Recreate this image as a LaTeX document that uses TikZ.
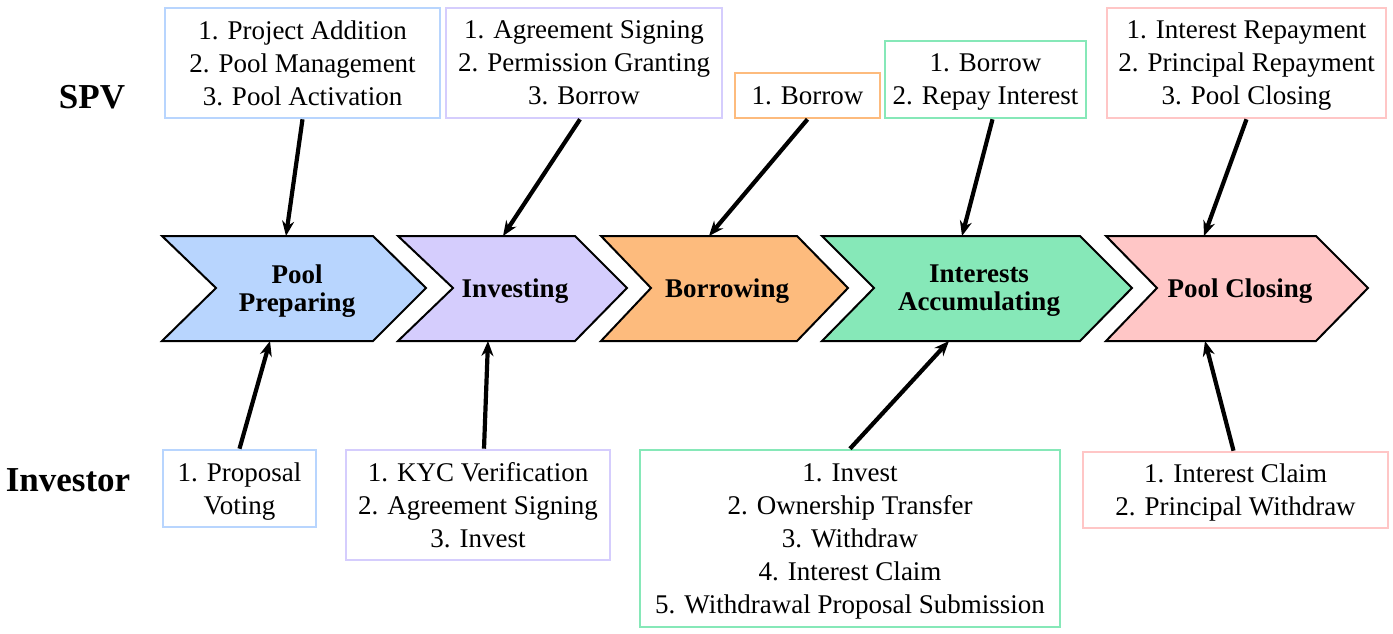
\documentclass[tikz,border=0pt]{standalone}
\usepackage{fontspec}
\setmainfont{Liberation Serif}
\usepackage{tikz}
\usetikzlibrary{arrows.meta}
\definecolor{poolblue}{HTML}{B8D5FE}
\definecolor{investpurple}{HTML}{D5CDFD}
\definecolor{borroworange}{HTML}{FDBB7D}
\definecolor{interestgreen}{HTML}{86E8B8}
\definecolor{closepink}{HTML}{FFC6C6}
\tikzset{>={Stealth[length=15pt,width=12pt]},
  chev/.style={draw=black,line width=2pt,line join=miter},
  stage/.style={font=\fontsize{27}{28}\selectfont\bfseries,align=center,text depth=0pt},
  task/.style={draw,line width=2.6pt,align=center,inner sep=0pt,text depth=0pt,
    font=\fontsize{27}{33}\selectfont},
  role/.style={font=\fontsize{35}{40}\selectfont\bfseries},
  push/.style={line width=4.2pt,->}}

\begin{document}
\begin{tikzpicture}[x=1pt,y=-1pt]

  \useasboundingbox (0,0) rectangle (1393,634);

  \node [role] (spv) at (92,97) {SPV};
  \node [role] (investor) at (68,480) {Investor};

  % stages
  \draw [chev,fill=poolblue] (162,236) -- (373,236) -- (426,288) -- (373,341) -- (162,341) -- (216,288) -- cycle;
  \draw [chev,fill=investpurple] (398,236) -- (575,236) -- (627,288) -- (575,341) -- (398,341) -- (453,288) -- cycle;
  \draw [chev,fill=borroworange] (601,236) -- (797,236) -- (848,288) -- (797,341) -- (601,341) -- (651,288) -- cycle;
  \draw [chev,fill=interestgreen] (822,236) -- (1080,236) -- (1132,288) -- (1080,341) -- (822,341) -- (874,288) -- cycle;
  \draw [chev,fill=closepink] (1106,236) -- (1316,236) -- (1368,288) -- (1316,341) -- (1106,341) -- (1157,288) -- cycle;

  \node [stage] (pool) at (297,288) {Pool\\Preparing};
  \node [stage] (invest) at (515,288) {Investing};
  \node [stage] (borrow) at (727,288) {Borrowing};
  \node [stage] (interest) at (979,288) {Interests\\Accumulating};
  \node [stage] (close) at (1240,288) {Pool Closing};

  \coordinate (pooltop) at (286,236);
  \coordinate (investtop) at (503,236);
  \coordinate (borrowtop) at (709,236);
  \coordinate (interesttop) at (962,236);
  \coordinate (closetop) at (1204,236);
  \coordinate (poolbot) at (270,341);
  \coordinate (investbot) at (488,341);
  \coordinate (interestbot) at (949,341);
  \coordinate (closebot) at (1205,341);

  % SPV tasks
  \node [task,draw=poolblue,minimum width=275,minimum height=110] (spvpool) at (302.5,63)
    {1. Project Addition\\2. Pool Management\\3. Pool Activation};
  \node [task,draw=investpurple,minimum width=276,minimum height=110] (spvinvest) at (584,63)
    {1. Agreement Signing\\2. Permission Granting\\3. Borrow};
  \node [task,draw=borroworange,minimum width=145,minimum height=45] (spvborrow) at (807.5,95.5)
    {1. Borrow};
  \node [task,draw=interestgreen,minimum width=201,minimum height=77] (spvinterest) at (985.5,79.5)
    {1. Borrow\\2. Repay Interest};
  \node [task,draw=closepink,minimum width=279,minimum height=110] (spvclose) at (1246.5,63)
    {1. Interest Repayment\\2. Principal Repayment\\3. Pool Closing};

  % investor tasks
  \node [task,draw=poolblue,minimum width=153,minimum height=77] (invpool) at (239.5,488.5)
    {1. Proposal\\Voting};
  \node [task,draw=investpurple,minimum width=264,minimum height=110] (invinvest) at (478,505)
    {1. KYC Verification\\2. Agreement Signing\\3. Invest};
  \node [task,draw=interestgreen,minimum width=420,minimum height=177] (invinterest) at (850,538.5)
    {1. Invest\\2. Ownership Transfer\\3. Withdraw\\4. Interest Claim\\5. Withdrawal Proposal Submission};
  \node [task,draw=closepink,minimum width=305,minimum height=76] (invclose) at (1235.5,490)
    {1. Interest Claim\\2. Principal Withdraw};

  \draw [push] (spvpool.south) -- (pooltop);
  \draw [push] ([xshift=-4]spvinvest.south) -- (investtop);
  \draw [push] (spvborrow.south) -- (borrowtop);
  \draw [push] ([xshift=7]spvinterest.south) -- (interesttop);
  \draw [push] (spvclose.south) -- (closetop);

  \draw [push] (invpool.north) -- (poolbot);
  \draw [push] ([xshift=6]invinvest.north) -- (investbot);
  \draw [push] (invinterest.north) -- (interestbot);
  \draw [push] ([xshift=-2]invclose.north) -- (closebot);

\end{tikzpicture}
\end{document}
